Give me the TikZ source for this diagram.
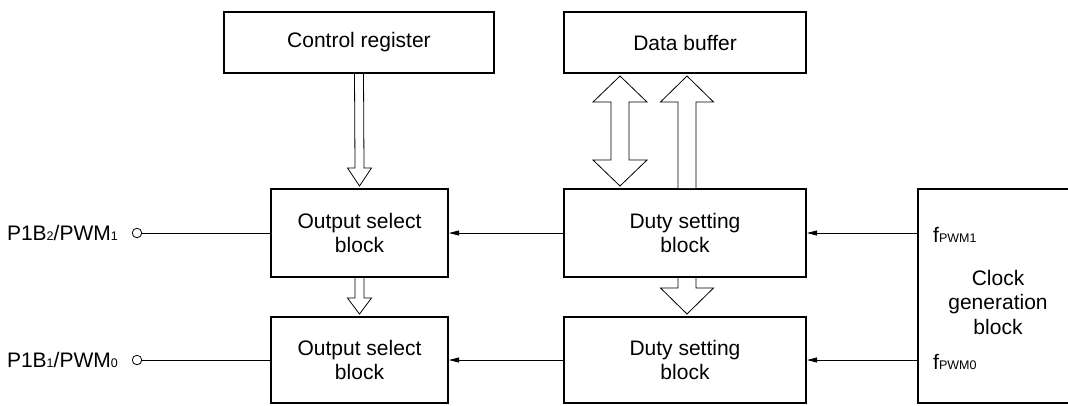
\documentclass[tikz,border=0pt]{standalone}
\usepackage{fontspec}
\setmainfont{Liberation Sans}
\usetikzlibrary{calc,arrows.meta}
\newcommand{\sbs}[1]{{\fontsize{12.5}{12.5}\selectfont #1}}
\newcommand{\downblk}[5]{%
  \draw[blk] ($(#1)+(-#3,0)$) -- ($(#2)+(-#3,-#5)$) -- ($(#2)+(-#4,-#5)$) -- (#2)
    -- ($(#2)+(#4,-#5)$) -- ($(#2)+(#3,-#5)$) -- ($(#1)+(#3,0)$);}
\newcommand{\upblk}[5]{%
  \draw[blk] ($(#1)+(-#3,0)$) -- ($(#2)+(-#3,#5)$) -- ($(#2)+(-#4,#5)$) -- (#2)
    -- ($(#2)+(#4,#5)$) -- ($(#2)+(#3,#5)$) -- ($(#1)+(#3,0)$);}
\begin{document}
\begin{tikzpicture}[x=1pt,y=-1pt,
  box/.style={draw,line width=2pt,inner sep=0pt,align=center,font=\fontsize{21}{24.5}\selectfont},
  blk/.style={draw,line width=0.8pt,fill=white,line join=miter},
  sig/.style={draw,line width=0.8pt,-{Triangle[length=10pt,width=5pt]}},
  pin/.style={draw,circle,line width=0.8pt,minimum size=9.5pt,inner sep=0pt},
  lbl/.style={inner sep=0pt,font=\fontsize{21}{24.5}\selectfont}]
\useasboundingbox (0,0) rectangle (1068,405);
\clip (0,0) rectangle (1068,405);
% boxes
\node[box,minimum width=270,minimum height=61] (cr) at (359,42.5) {Control register};
\node[box,minimum width=242,minimum height=61] (db) at (685,42.5) {Data buffer};
\node[box,minimum width=177,minimum height=88] (os1) at (359.5,233) {Output select\\block};
\node[box,minimum width=177,minimum height=86] (os2) at (359.5,360) {Output select\\block};
\node[box,minimum width=242,minimum height=88] (ds1) at (685,233) {Duty setting\\block};
\node[box,minimum width=242,minimum height=86] (ds2) at (685,360) {Duty setting\\block};
\node[box,minimum width=160,minimum height=214] (clk) at (998,296) {};
\node[lbl,align=center] (clkt) at (998,302) {Clock\\generation\\block};
% clock outputs
\node[lbl,anchor=base west] (f1) at (933,242) {f\sbs{PWM1}};
\node[lbl,anchor=base west] (f0) at (933,369.5) {f\sbs{PWM0}};
% signal lines
\draw[sig] (ds1.east -| clk.west) -- (ds1.east);
\draw[sig] (ds2.east -| clk.west) -- (ds2.east);
\draw[sig] (ds1.west) -- (os1.east);
\draw[sig] (ds2.west) -- (os2.east);
% pins
\node[pin] (p1) at (137,233) {};
\node[pin] (p0) at (137,360) {};
\draw[line width=0.8pt] (p1) -- (os1.west);
\draw[line width=0.8pt] (p0) -- (os2.west);
\node[lbl,anchor=base east] (l1) at (118,240.5) {P1B\sbs{2}/PWM\sbs{1}};
\node[lbl,anchor=base east] (l0) at (118,367.5) {P1B\sbs{1}/PWM\sbs{0}};
% block arrows
\coordinate (t1) at ($(os1.north)+(0,-2)$);
\downblk{cr.south}{t1}{4.5}{12}{18}
\coordinate (t2) at ($(os2.north)+(0,-2)$);
\downblk{os1.south}{t2}{4.5}{12}{16}
\coordinate (ub) at (687,0 |- ds1.north);
\coordinate (ut) at ($(687,0 |- db.south)+(0,2)$);
\upblk{ub}{ut}{9}{26.5}{26}
\coordinate (dt) at ($(687,0 |- ds2.north)+(0,-2)$);
\downblk{687,0 |- ds1.south}{dt}{9}{26.5}{26}
\coordinate (bt) at ($(620,0 |- db.south)+(0,2)$);
\coordinate (bb) at ($(620,0 |- ds1.north)+(0,-2)$);
\draw[blk] (bt) -- ($(bt)+(27,26)$) -- ($(bt)+(9,26)$) -- ($(bb)+(9,-26)$) -- ($(bb)+(27,-26)$)
  -- (bb) -- ($(bb)+(-27,-26)$) -- ($(bb)+(-9,-26)$) -- ($(bt)+(-9,26)$) -- ($(bt)+(-27,26)$) -- cycle;
\end{tikzpicture}
\end{document}
